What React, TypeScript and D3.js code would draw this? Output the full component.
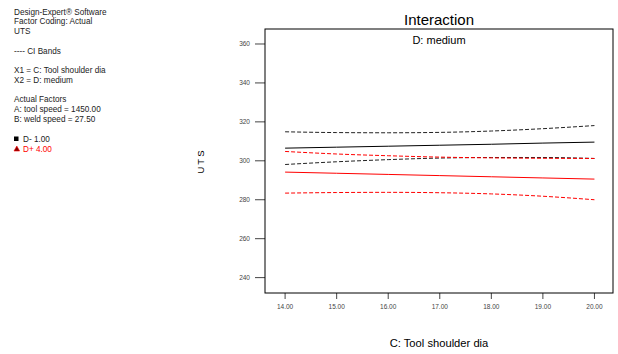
import React from 'react';
import * as d3 from 'd3';

// Values
const xValues = [14, 15, 16, 17, 18, 19, 20];
const xTicks = [14, 15, 16, 17, 18, 19, 20];
const yTicks = [240, 260, 280, 300, 320, 340, 360];

const dLowMean = [306.5, 307.0, 307.5, 308.0, 308.5, 309.1, 309.6];
const dLowUpper = [314.9, 314.5, 314.4, 314.6, 315.3, 316.5, 318.1];
const dLowLower = [298.1, 299.5, 300.6, 301.4, 301.7, 301.7, 301.2];

const dHighMean = [294.2, 293.6, 293.0, 292.4, 291.8, 291.2, 290.6];
const dHighUpper = [304.8, 303.5, 302.6, 301.9, 301.5, 301.3, 301.2];
const dHighLower = [283.4, 283.7, 283.8, 283.6, 283.0, 281.8, 280.0];

const infoLines = [
  'Design-Expert® Software',
  'Factor Coding: Actual',
  'UTS',
  '',
  '---- CI Bands',
  '',
  'X1 = C: Tool shoulder dia',
  'X2 = D: medium',
  '',
  'Actual Factors',
  'A: tool speed = 1450.00',
  'B: weld speed = 27.50',
];

const FONT = 'Liberation Sans, Arial, sans-serif';

const App = () => {
  const width = 618;
  const height = 354;
  const left = 265;
  const right = 613;
  const top = 29;
  const bottom = 293;

  const x = d3.scaleLinear().domain([13.61, 20.36]).range([left, right]);
  const y = d3.scaleLinear().domain([232.1, 367.7]).range([bottom, top]);

  const line = d3
    .line<number>()
    .x((_, i) => x(xValues[i]))
    .y((d) => y(d))
    .curve(d3.curveMonotoneX);

  const series = [
    { values: dLowUpper, color: '#222', dash: '4,2' },
    { values: dLowLower, color: '#222', dash: '4,2' },
    { values: dLowMean, color: '#000', dash: null },
    { values: dHighUpper, color: '#ff0000', dash: '4,2' },
    { values: dHighLower, color: '#ff0000', dash: '4,2' },
    { values: dHighMean, color: '#ff0000', dash: null },
  ];

  return (
    <svg
      width={width}
      height={height}
      style={{ position: 'absolute', left: 0, top: 0, background: '#fff' }}
      fontFamily={FONT}
    >
      {/* side notes */}
      {infoLines.map((t, i) => (
        <text key={i} x={14} y={14.6 + i * 9.75} fontSize={8.2} fill="#222">
          {t}
        </text>
      ))}
      <rect x={14} y={136.5} width={4.5} height={4.5} fill="#000" />
      <text x={23} y={142.3} fontSize={8.2} fill="#222">D- 1.00</text>
      <path d="M14,151 L16.8,146 L19.6,151 Z" fill="#800000" stroke="#ff0000" strokeWidth={0.6} />
      <text x={23} y={152} fontSize={8.2} fill="#ff0000">D+ 4.00</text>

      {/* titles */}
      <text x={439} y={24.5} textAnchor="middle" fontSize={15} fill="#000">Interaction</text>
      <text x={439} y={43.5} textAnchor="middle" fontSize={11} fill="#000">D: medium</text>
      <text x={439} y={346.5} textAnchor="middle" fontSize={11.2} fill="#000">C: Tool shoulder dia</text>
      <text
        transform={`translate(203.5,${161}) rotate(-90)`}
        textAnchor="middle"
        fontSize={9.5}
        letterSpacing={2}
        fill="#000"
      >
        UTS
      </text>

      {/* y axis */}
      {yTicks.map((t) => (
        <g key={t}>
          <line x1={255} x2={left} y1={y(t)} y2={y(t)} stroke="#444" strokeWidth={1} />
          <text x={250} y={y(t) + 2.3} textAnchor="end" fontSize={6.5} fill="#444">
            {t}
          </text>
        </g>
      ))}
      {/* x axis */}
      {xTicks.map((t) => (
        <g key={t}>
          <line x1={x(t)} x2={x(t)} y1={bottom} y2={bottom + 6} stroke="#444" strokeWidth={1} />
          <text x={x(t)} y={bottom + 16} textAnchor="middle" fontSize={6.5} fill="#444">
            {t.toFixed(2)}
          </text>
        </g>
      ))}

      <rect x={left} y={top} width={right - left} height={bottom - top} fill="none" stroke="#000" strokeWidth={1} />

      {series.map((s, i) => (
        <path
          key={i}
          d={line(s.values) || ''}
          fill="none"
          stroke={s.color}
          strokeWidth={1}
          strokeDasharray={s.dash || undefined}
        />
      ))}
    </svg>
  );
};

export default App;
